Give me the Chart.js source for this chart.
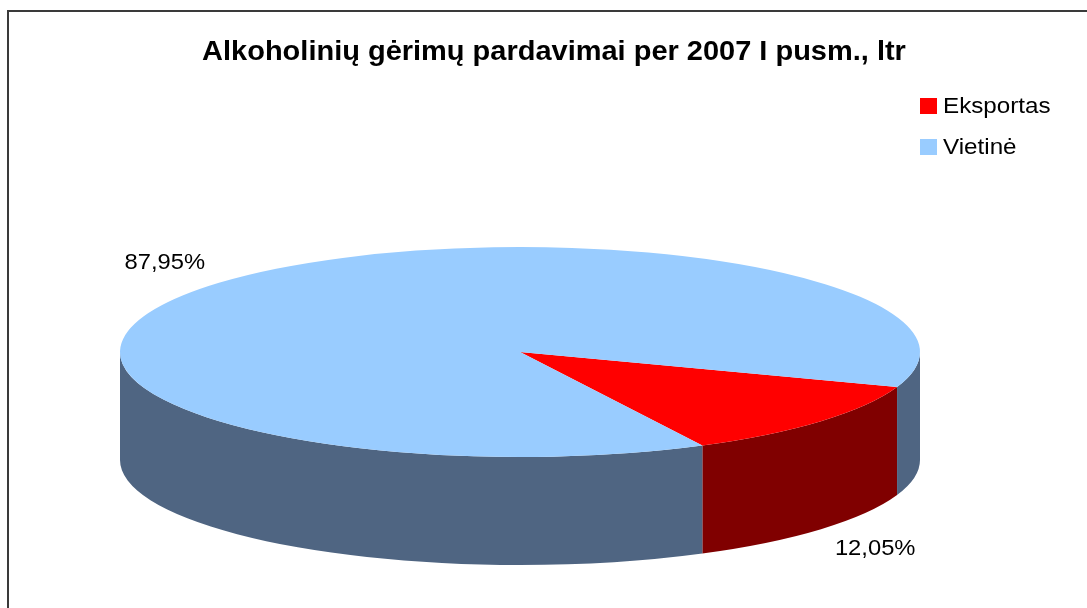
<!DOCTYPE html>
<html><head><meta charset="utf-8">
<script src="https://cdn.jsdelivr.net/npm/chart.js@4/dist/chart.umd.min.js"></script>
<style>
html,body{margin:0;padding:0;background:#fff;overflow:hidden}
#wrap{position:relative;width:1087px;height:608px;overflow:hidden}
#frame{position:absolute;left:7px;top:10px;width:1200px;height:700px;border-top:2px solid #3a3a3a;border-left:2px solid #3a3a3a}
canvas{position:absolute;left:0;top:0}
</style></head><body>
<div id="wrap"><div id="frame"></div><canvas id="c" width="1087" height="608"></canvas></div>
<script>
const chartTitle = 'Alkoholinių gėrimų pardavimai per 2007 I pusm., ltr';
const categories = ['Eksportas', 'Vietinė'];
const shares = [12.05, 87.95];
const topColors = ['#FF0000', '#99CCFF'];
const sideColors = ['#800000', '#4F6582'];

const FONT = '"Liberation Sans", Arial, sans-serif';
const DEPTH = 108;
const RX_EXTRA = 72, RY_EXTRA = 30;

function fmt(v) { return v.toFixed(2).replace('.', ',') + '%'; }

function stretchText(ctx, text, x, y, sx) {
  ctx.save();
  ctx.translate(x, y);
  ctx.scale(sx, 1);
  ctx.fillText(text, 0, 0);
  ctx.restore();
}

const pie3d = {
  id: 'pie3d',
  beforeDatasetsDraw(chart) {
    const ctx = chart.ctx, area = chart.chartArea;
    const arcs = chart.getDatasetMeta(0).data;
    if (!arcs.length) return false;
    const cx = arcs[0].x, cy = arcs[0].y, r = arcs[0].outerRadius;
    const sx = (area.right - area.left) / 2 / r;
    ctx.save();
    ctx.translate(cx, cy); ctx.scale(sx, 1); ctx.translate(-cx, -cy);
    const TWO = Math.PI * 2;
    arcs.forEach((a, i) => {
      const s = a.startAngle, e = a.endAngle;
      for (let k = -2; k <= 2; k++) {
        const lo = Math.max(s, k * TWO), hi = Math.min(e, k * TWO + Math.PI);
        if (hi > lo) {
          ctx.beginPath();
          ctx.arc(cx, cy, r, lo, hi, false);
          ctx.arc(cx, cy + DEPTH, r, hi, lo, true);
          ctx.closePath();
          ctx.fillStyle = sideColors[i];
          ctx.fill();
        }
      }
    });
    arcs.forEach(a => a.draw(ctx, area));
    ctx.restore();
    return false;
  },
  afterDraw(chart) {
    const ctx = chart.ctx, area = chart.chartArea;
    const arcs = chart.getDatasetMeta(0).data;
    const cx = arcs[0].x, cy = arcs[0].y, r = arcs[0].outerRadius;
    const rx = (area.right - area.left) / 2;
    ctx.save();
    ctx.fillStyle = '#000';
    ctx.textAlign = 'center'; ctx.textBaseline = 'middle';
    ctx.font = 'bold 28px ' + FONT;
    stretchText(ctx, chartTitle, 554, 52, 1.035);
    ctx.font = '22px ' + FONT;
    ctx.textAlign = 'left';
    categories.forEach((c, i) => {
      const y = 106 + i * 41;
      ctx.fillStyle = topColors[i];
      ctx.fillRect(920, y - 8, 17, 16);
      ctx.fillStyle = '#000';
      stretchText(ctx, c, 943, y + 1, 1.1);
    });
    ctx.textAlign = 'center';
    arcs.forEach((a, i) => {
      const m = (a.startAngle + a.endAngle) / 2;
      const c = Math.cos(m), s = Math.sin(m);
      const x = cx + (rx + RX_EXTRA) * c;
      const y = cy + (r + RY_EXTRA) * s + (s > 0 ? DEPTH : 0);
      stretchText(ctx, fmt(shares[i]), x, y, 1.08);
    });
    ctx.restore();
  }
};

new Chart(document.getElementById('c'), {
  type: 'pie',
  data: { labels: categories, datasets: [{ data: shares, backgroundColor: topColors, borderWidth: 0 }] },
  options: {
    responsive: false, animation: false, devicePixelRatio: 1,
    rotation: 109.5,
    layout: { padding: { left: 120, right: 167, top: 247, bottom: 151 } },
    plugins: { legend: { display: false }, title: { display: false }, tooltip: { enabled: false } },
    events: []
  },
  plugins: [pie3d]
});
</script>
</body></html>
